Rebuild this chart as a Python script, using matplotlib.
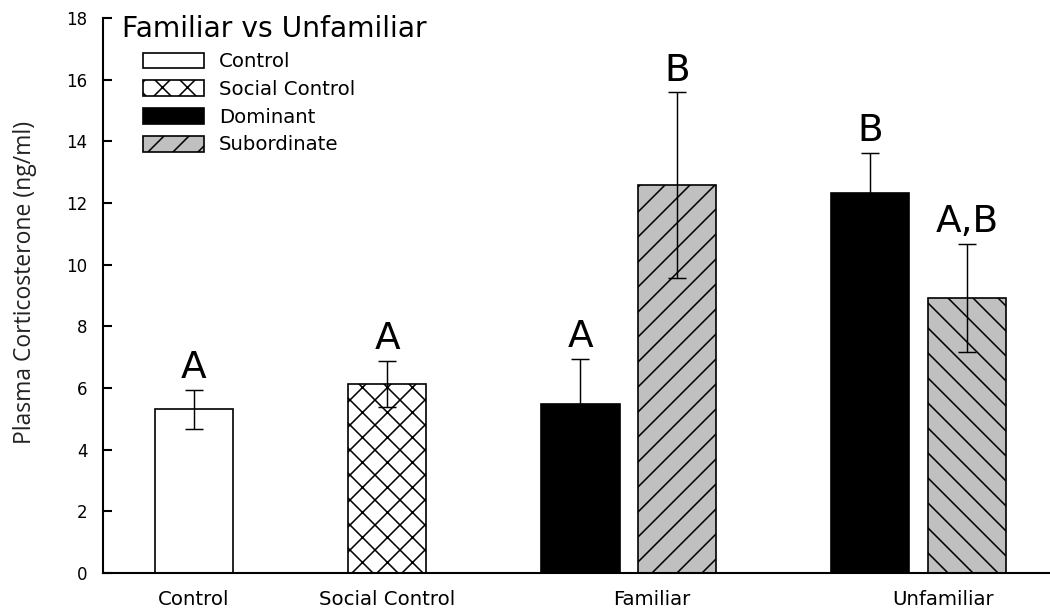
import matplotlib.pyplot as plt
import numpy as np

groups = ['Control', 'Social Control', 'Familiar', 'Unfamiliar']

# means and SEM of plasma corticosterone (ng/ml)
control_mean = 5.31
control_sem = 0.635
social_mean = 6.13
social_sem = 0.76
dominant_means = [5.49, 12.31]      # familiar, unfamiliar
dominant_sems = [1.46, 1.32]
subordinate_means = [12.58, 8.92]
subordinate_sems = [3.01, 1.76]

# significance letters: control, social, dom fam, sub fam, dom unf, sub unf
letters = ['A', 'A', 'A', 'B', 'B', 'A,B']

# bar positions
ctrl_x = [1]
social_x = [3]
dom_x = [5, 8]
sub_x = [6, 9]
group_ticks = [1, 3, 5.74, 8.75]
width = 0.81

plt.rcParams['hatch.linewidth'] = 0.75
plt.rcParams['font.family'] = 'DejaVu Sans'

fig = plt.figure(figsize=(7, 4.08), dpi=150)
ax = fig.add_axes([0.098, 0.0637, 0.902, 0.907])

eb = dict(fmt='none', ecolor='black', elinewidth=0.7, capsize=4.5, capthick=0.7)

b1 = ax.bar(ctrl_x, [control_mean], width, color='white', edgecolor='black', linewidth=0.8, label='Control')
b2 = ax.bar(social_x, [social_mean], width, color='white', edgecolor='black', linewidth=0.8, hatch='xx', label='Social Control')
b3 = ax.bar(dom_x, dominant_means, width, color='black', edgecolor='black', linewidth=0.8, label='Dominant')
b4 = ax.bar(sub_x[:1], subordinate_means[:1], width, color='#c0c0c0', edgecolor='black', linewidth=0.8, hatch='//', label='Subordinate')
ax.bar(sub_x[1:], subordinate_means[1:], width, color='#c0c0c0', edgecolor='black', linewidth=0.8, hatch='\\\\')

ax.errorbar(ctrl_x, [control_mean], yerr=[control_sem], **eb)
ax.errorbar(social_x, [social_mean], yerr=[social_sem], **eb)
ax.errorbar(dom_x, dominant_means, yerr=dominant_sems, **eb)
ax.errorbar(sub_x, subordinate_means, yerr=subordinate_sems, **eb)

# letters above the error bars
xs = ctrl_x + social_x + [dom_x[0], sub_x[0], dom_x[1], sub_x[1]]
tops = [control_mean + control_sem, social_mean + social_sem,
        dominant_means[0] + dominant_sems[0], subordinate_means[0] + subordinate_sems[0],
        dominant_means[1] + dominant_sems[1], subordinate_means[1] + subordinate_sems[1]]
for x, t, s in zip(xs, tops, letters):
    ax.annotate(s, (x, t), xytext=(0, 5.5), textcoords='offset points',
                ha='center', va='baseline', fontsize=18)

ax.set_xlim(0.058, 9.86)
ax.set_ylim(0, 18)
ax.set_yticks(np.arange(0, 19, 2))
ax.set_xticks(group_ticks)
ax.set_xticklabels(groups)
ax.spines['top'].set_visible(False)
ax.spines['right'].set_visible(False)
ax.spines['left'].set_linewidth(1)
ax.spines['bottom'].set_linewidth(1)
ax.tick_params(axis='y', direction='in', length=4.3, width=1, labelsize=8, pad=7.5)
ax.tick_params(axis='x', length=0, labelsize=9.5, pad=8)

ax.set_ylabel('Plasma Corticosterone (ng/ml)', fontsize=11, fontfamily='Open Sans', color='#222222')
ax.yaxis.set_label_coords(-0.070, 0.523)

fig.text(0.116, 0.940, 'Familiar vs Unfamiliar', fontsize=13.5, va='baseline')

ax.legend(handles=[b1, b2, b3, b4], loc='upper left', bbox_to_anchor=(0.042, 0.938),
          frameon=False, fontsize=9.5, handlelength=3.1, handleheight=0.85,
          handletextpad=0.75, labelspacing=0.44, borderpad=0, borderaxespad=0)

plt.savefig('out.png', dpi=150)
